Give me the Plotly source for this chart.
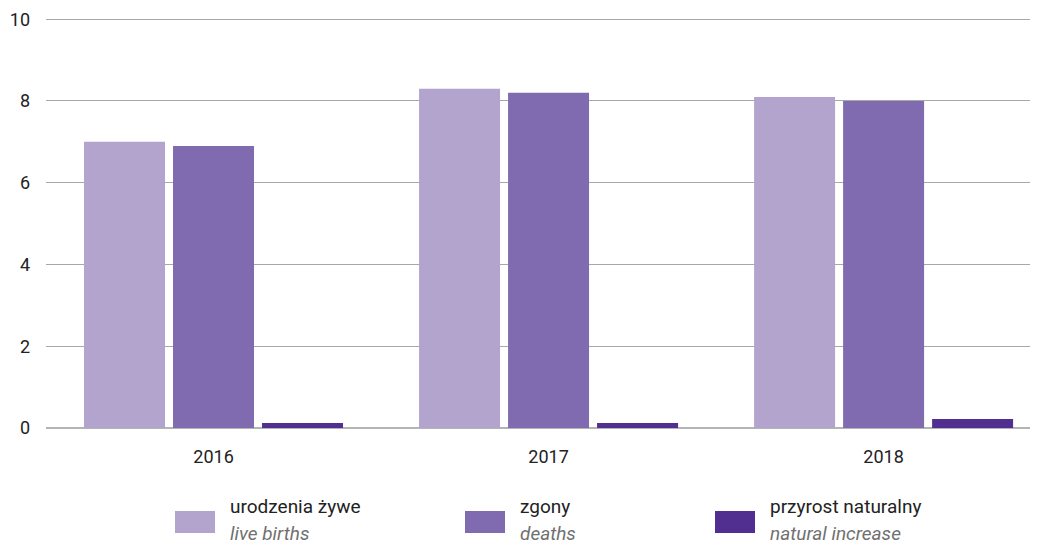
import plotly.graph_objects as go

years = ["2016", "2017", "2018"]
live_births = [7.0, 8.3, 8.1]
deaths = [6.9, 8.2, 8.0]
natural_increase = [0.12, 0.12, 0.22]

series_pl = ["urodzenia żywe", "zgony", "przyrost naturalny"]
series_en = ["live births", "deaths", "natural increase"]
colors = ["#B3A4CE", "#806BB0", "#502F90"]
y_ticks = [0, 2, 4, 6, 8, 10]

FONT = "Roboto, sans-serif"

W, H = 1041, 546
L, R, T, B = 46, 11, 18, 118
PW, PH = W - L - R, H - T - B

def px(x):
    return (x - L) / PW

def py(y):
    return (H - B - y) / PH

fig = go.Figure()
for name, vals, col in zip(series_pl, [live_births, deaths, natural_increase], colors):
    fig.add_trace(go.Bar(x=years, y=vals, name=name, marker=dict(color=col, line=dict(width=0)),
                         showlegend=False, hoverinfo="skip"))

fig.update_layout(
    width=W, height=H,
    margin=dict(l=L, r=R, t=T, b=B, autoexpand=False),
    paper_bgcolor="white", plot_bgcolor="white",
    barmode="group", bargap=0.203, bargroupgap=0.09,
    font=dict(family=FONT, size=18, color="#222222"),
    xaxis=dict(type="category", range=[-0.5, 2.437], showgrid=False, showline=False,
               ticks="", ticklabelstandoff=16, tickfont=dict(size=18, color="#222222")),
    yaxis=dict(range=[0, 10.03], tickvals=y_ticks, showgrid=True, gridcolor="#A8A8A8", gridwidth=1,
               zeroline=True, zerolinecolor="#B4B4B4", zerolinewidth=2, showline=False,
               ticks="", ticklabelstandoff=15, tickfont=dict(size=18, color="#222222")),
)

# manual legend
legend_x = [175, 465, 715]
for i, (pl, en, col) in enumerate(zip(series_pl, series_en, colors)):
    x0 = legend_x[i]
    fig.add_shape(type="rect", xref="paper", yref="paper",
                  x0=px(x0), x1=px(x0 + 40), y0=py(533), y1=py(511),
                  fillcolor=col, line=dict(width=0))
    fig.add_annotation(xref="paper", yref="paper", x=px(x0 + 53), y=py(506),
                       text=pl, showarrow=False, xanchor="left", yanchor="middle",
                       font=dict(family=FONT, size=19, color="#222222"))
    fig.add_annotation(xref="paper", yref="paper", x=px(x0 + 53), y=py(533),
                       text="<i>" + en + "</i>", showarrow=False, xanchor="left", yanchor="middle",
                       font=dict(family=FONT, size=19, color="#707070"))

fig.write_html("out.html", config={"displayModeBar": False},
               post_script="document.body.style.margin='0';document.body.style.overflow='hidden';")
